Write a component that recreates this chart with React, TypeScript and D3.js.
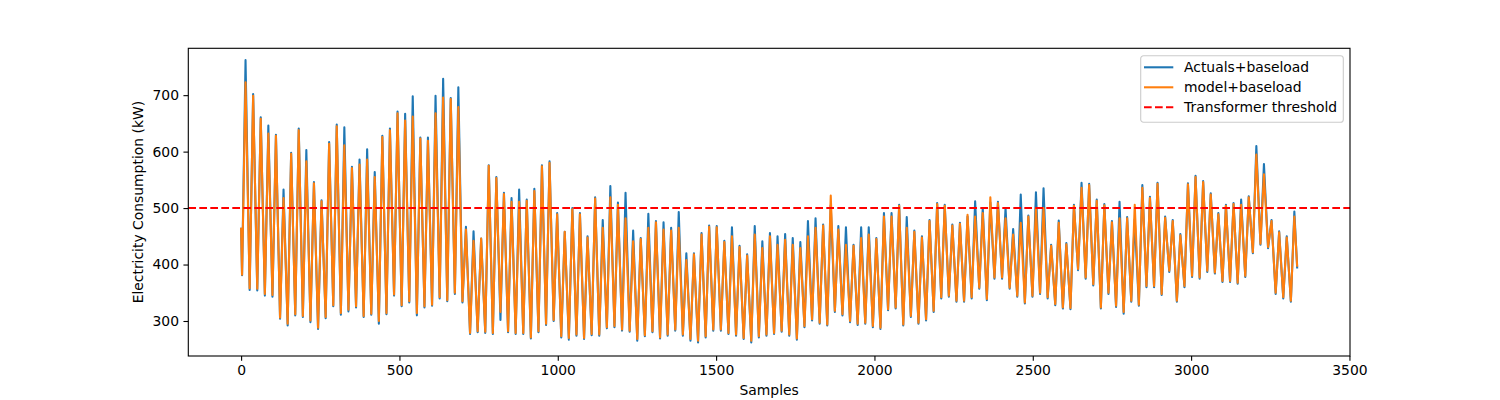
import { useEffect, useRef } from "react";
import * as d3 from "d3";

// hourly samples, one trough and one peak read per day (24 samples)
const SAMPLES_PER_DAY = 24;
const TROUGH_HOUR = 3;
const PEAK_HOUR = 14;
const FIRST_SAMPLE = { x: 0, actual: 465, model: 465 };
const LAST_SAMPLE = { x: 3335, actual: 393, model: 396 };
const THRESHOLD = 500;

const actualTrough = [
  381, 355, 354, 345, 343, 304, 292, 310, 307, 298, 286, 305, 326, 311, 317, 324, 307, 311, 295, 312,
  345, 326, 333, 310, 324, 327, 340, 335, 348, 333, 277, 280, 279, 277, 302, 280, 277, 277, 269, 280,
  293, 300, 271, 267, 274, 268, 275, 274, 287, 289, 283, 281, 265, 273, 280, 269, 274, 283, 274, 265,
  262, 271, 283, 283, 277, 274, 268, 262, 271, 274, 277, 281, 274, 267, 289, 301, 295, 292, 316, 310,
  298, 293, 295, 289, 286, 319, 322, 292, 307, 295, 301, 316, 340, 343, 334, 334, 340, 357, 337, 375,
  375, 357, 343, 331, 343, 348, 340, 328, 322, 321, 390, 375, 363, 322, 348, 325, 313, 334, 327, 360,
  360, 346, 387, 334, 360, 378, 375, 387, 384, 369, 369, 366, 378, 420, 435, 429, 348, 340, 334,
];
const actualPeak = [
  762, 702, 661, 646, 630, 533, 598, 641, 603, 546, 514, 617, 648, 643, 573, 586, 604, 564, 628, 641,
  671, 667, 698, 625, 625, 699, 729, 695, 714, 467, 459, 446, 576, 555, 527, 518, 533, 515, 534, 576,
  583, 491, 458, 500, 491, 450, 519, 479, 539, 510, 527, 460, 447, 490, 477, 475, 465, 493, 420, 420,
  456, 469, 468, 442, 466, 433, 418, 468, 441, 456, 450, 454, 447, 440, 477, 482, 471, 505, 468, 466,
  435, 466, 466, 447, 491, 491, 506, 484, 460, 450, 479, 509, 506, 471, 474, 485, 512, 500, 510, 511,
  500, 463, 524, 487, 528, 535, 435, 478, 438, 506, 545, 543, 515, 507, 477, 511, 484, 480, 541, 520,
  545, 485, 479, 454, 544, 557, 548, 526, 491, 506, 509, 515, 521, 610, 578, 479, 459, 450, 494,
];
const modelTrough = [
  382, 358, 357, 348, 346, 306, 295, 312, 309, 301, 288, 307, 328, 314, 320, 326, 309, 313, 300, 314,
  347, 328, 335, 314, 326, 329, 342, 337, 350, 335, 279, 282, 281, 279, 316, 282, 279, 279, 271, 282,
  295, 302, 273, 270, 276, 270, 277, 276, 289, 291, 285, 283, 268, 275, 282, 271, 276, 285, 276, 268,
  265, 273, 285, 285, 279, 276, 270, 265, 273, 276, 279, 283, 276, 269, 291, 303, 297, 294, 318, 312,
  300, 295, 297, 291, 288, 321, 324, 294, 309, 297, 303, 318, 342, 345, 336, 336, 342, 359, 339, 377,
  377, 359, 345, 333, 345, 350, 342, 330, 324, 323, 392, 377, 365, 324, 350, 327, 316, 336, 329, 362,
  362, 348, 389, 336, 362, 380, 377, 389, 386, 371, 371, 368, 380, 422, 437, 431, 350, 342, 336,
];
const modelPeak = [
  723, 699, 658, 632, 628, 518, 596, 638, 583, 544, 512, 614, 645, 611, 571, 577, 586, 555, 626, 638,
  668, 655, 662, 623, 619, 668, 696, 693, 679, 462, 442, 446, 575, 553, 525, 511, 511, 513, 530, 574,
  580, 489, 458, 498, 489, 448, 517, 465, 519, 506, 482, 441, 445, 465, 475, 462, 460, 465, 408, 418,
  453, 467, 466, 440, 450, 431, 416, 453, 429, 450, 435, 444, 435, 429, 450, 465, 469, 522, 462, 435,
  433, 447, 453, 445, 485, 485, 504, 465, 458, 448, 477, 507, 504, 469, 472, 488, 485, 491, 519, 509,
  482, 453, 474, 485, 500, 500, 433, 474, 436, 504, 536, 541, 513, 505, 475, 482, 482, 506, 536, 518,
  543, 483, 477, 452, 542, 555, 546, 524, 489, 504, 507, 506, 519, 595, 560, 477, 457, 448, 485,
];

const xTicks = [0, 500, 1000, 1500, 2000, 2500, 3000, 3500];
const yTicks = [300, 400, 500, 600, 700];

const seriesNames = ["Actuals+baseload", "model+baseload", "Transformer threshold"];
const seriesColors = ["#1f77b4", "#ff7f0e", "#ff0000"];

type Pt = [number, number];

function buildSeries(trough: number[], peak: number[], first: number, last: number): Pt[] {
  const pts: Pt[] = [[FIRST_SAMPLE.x, first]];
  trough.forEach((t, d) => {
    pts.push([d * SAMPLES_PER_DAY + TROUGH_HOUR, t]);
    pts.push([d * SAMPLES_PER_DAY + PEAK_HOUR, peak[d]]);
  });
  pts.push([LAST_SAMPLE.x, last]);
  return pts;
}

export default function App() {
  const svgRef = useRef<SVGSVGElement>(null);

  useEffect(() => {
    if (!svgRef.current) return;
    const W = 1500, H = 400;
    const margin = { top: 48.3, right: 150, bottom: 44, left: 188.3 };
    const width = W - margin.left - margin.right;
    const height = H - margin.top - margin.bottom;
    const font = "'DejaVu Sans', sans-serif";
    const fs = "13.9px";

    const svg = d3.select(svgRef.current);
    svg.selectAll("*").remove();
    const g = svg.append("g").attr("transform", `translate(${margin.left},${margin.top})`);

    const actual = buildSeries(actualTrough, actualPeak, FIRST_SAMPLE.actual, LAST_SAMPLE.actual);
    const model = buildSeries(modelTrough, modelPeak, FIRST_SAMPLE.model, LAST_SAMPLE.model);

    const xPad = (LAST_SAMPLE.x - FIRST_SAMPLE.x) * 0.05;
    const x = d3.scaleLinear().domain([FIRST_SAMPLE.x - xPad, LAST_SAMPLE.x + xPad]).range([0, width]);
    const y = d3.scaleLinear().domain([238, 783]).range([height, 0]);

    const line = d3.line<Pt>().x(d => x(d[0])).y(d => y(d[1]));

    g.append("path").datum(actual).attr("d", line)
      .attr("fill", "none").attr("stroke", seriesColors[0]).attr("stroke-width", 2.08)
      .attr("stroke-linejoin", "round").attr("stroke-linecap", "butt");
    g.append("path").datum(model).attr("d", line)
      .attr("fill", "none").attr("stroke", seriesColors[1]).attr("stroke-width", 2.08)
      .attr("stroke-linejoin", "round").attr("stroke-linecap", "butt");

    // threshold across full axes
    g.append("line").attr("x1", 0).attr("x2", width).attr("y1", y(THRESHOLD)).attr("y2", y(THRESHOLD))
      .attr("stroke", seriesColors[2]).attr("stroke-width", 2.08).attr("stroke-dasharray", "7.7,3.3");

    // axes
    const xAxis = g.append("g").attr("transform", `translate(0,${height})`)
      .call(d3.axisBottom(x).tickValues(xTicks).tickSize(4.86).tickPadding(4.4).tickFormat(d3.format("d")));
    const yAxis = g.append("g")
      .call(d3.axisLeft(y).tickValues(yTicks).tickSize(4.86).tickPadding(4.4).tickFormat(d3.format("d")));
    [xAxis, yAxis].forEach(a => {
      a.select(".domain").remove();
      a.selectAll(".tick line").attr("stroke", "#000").attr("stroke-width", 1.1);
      a.selectAll(".tick text").attr("fill", "#000").style("font-family", font).style("font-size", fs);
    });

    // frame
    g.append("rect").attr("width", width).attr("height", height)
      .attr("fill", "none").attr("stroke", "#000").attr("stroke-width", 1.1);

    // axis labels
    g.append("text").attr("x", width / 2).attr("y", height + 39.5)
      .attr("text-anchor", "middle").style("font-family", font).style("font-size", fs).text("Samples");
    g.append("text").attr("transform", `translate(${138 - margin.left},${height / 2}) rotate(-90)`)
      .attr("text-anchor", "middle").attr("dominant-baseline", "central")
      .style("font-family", font).style("font-size", fs).text("Electricity Consumption (kW)");

    // legend
    const lg = g.append("g").attr("transform", `translate(${1140.7 - margin.left},${55.7 - margin.top})`);
    lg.append("rect").attr("width", 202.6).attr("height", 66.6).attr("rx", 2.8)
      .attr("fill", "rgba(255,255,255,0.8)").attr("stroke", "#cccccc").attr("stroke-width", 1.1);
    seriesNames.forEach((name, i) => {
      const cy = 11.6 + i * 20;
      lg.append("line").attr("x1", 3.3).attr("x2", 32.6).attr("y1", cy).attr("y2", cy)
        .attr("stroke", seriesColors[i]).attr("stroke-width", 2.08)
        .attr("stroke-dasharray", i === 2 ? "7.7,3.3" : null);
      lg.append("text").attr("x", 43.3).attr("y", cy).attr("dominant-baseline", "central")
        .style("font-family", font).style("font-size", fs).text(name);
    });
  }, []);

  return (
    <div style={{ position: "absolute", left: 0, top: 0 }}>
      <svg ref={svgRef} width={1500} height={400} style={{ display: "block", background: "#fff" }} />
    </div>
  );
}
